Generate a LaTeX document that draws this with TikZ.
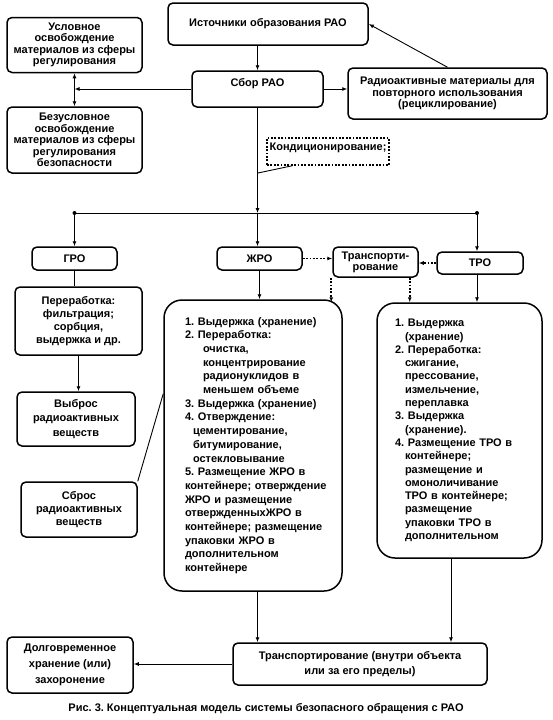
\documentclass[tikz,border=0pt]{standalone}
\usepackage{fontspec}
\setmainfont{Liberation Sans}
\usetikzlibrary{arrows.meta}

\tikzset{
	box/.style={draw, line width=1.5pt, rounded corners=5pt, align=center, inner sep=0pt,
		font=\bfseries\fontsize{11}{#1}\selectfont},
	box/.default=11.5,
	listbox/.style={draw, line width=1.5pt, rounded corners=18pt, align=left, inner ysep=0pt,
		font=\bfseries\fontsize{11}{#1}\selectfont},
	link/.style={line width=0.9pt, -{Latex[length=5pt,width=4pt]}},
	dlink/.style={line width=0.9pt, {Latex[length=5pt,width=4pt]}-{Latex[length=5pt,width=4pt]}},
	dotlink/.style={line width=1.6pt, dash pattern=on 1.8pt off 1.6pt, -{Latex[length=5pt,width=4pt]}},
	plain/.style={line width=0.9pt}
}

\begin{document}
\frenchspacing
\begin{tikzpicture}[x=1pt, y=-1pt]
	\useasboundingbox (0,0) rectangle (553,720);
	% top row
	\node[box, minimum width=200, minimum height=42] (n_src) at (268,24) {Источники образования РАО};
	\node[box, minimum width=135, minimum height=55] (n_cond) at (74.5,45)
		{Условное\\освобождение\\материалов из сферы\\регулирования};
	\node[box, minimum width=135, minimum height=66] (n_uncond) at (74.5,140)
		{Безусловное\\освобождение\\материалов из сферы\\регулирования\\безопасности};
	\node[box, minimum width=131, minimum height=36, text height=8pt, text depth=14pt] (n_collect) at (257.5,89) {Сбор РАО};
	\node[box, minimum width=199, minimum height=51] (n_recyc) at (447.5,93.5)
		{Радиоактивные материалы для\\повторного использования\\(рециклирование)};
	% callout
	\node[box, rounded corners=0pt, dash pattern=on 1.8pt off 1.6pt, minimum width=122, minimum height=27,
		text height=8pt, text depth=11pt] (n_condit) at (328,151.5) {Кондиционирование;};
	\coordinate (c_tip) at (258,173);
	% split line
	\coordinate (c_split) at (257.5,213);
	\coordinate (c_left) at (74.5,213);
	\coordinate (c_right) at (477,213);
	% waste kinds
	\node[box, minimum width=85, minimum height=23] (n_gro) at (74.5,258.5) {ГРО};
	\node[box, minimum width=85, minimum height=23] (n_zhro) at (259.5,258.5) {ЖРО};
	\node[box=11, minimum width=85, minimum height=30] (n_trans) at (375.5,262) {Транспорти-\\рование};
	\node[box, minimum width=86, minimum height=22] (n_tro) at (480,263) {ТРО};
	% gaseous branch
	\node[box=13, minimum width=127, minimum height=68] (n_gproc) at (78.5,321)
		{Переработка:\\фильтрация;\\сорбция,\\выдержка и др.};
	\node[box=14.5, minimum width=118, minimum height=54] (n_emis) at (76,419)
		{Выброс\\радиоактивных\\веществ};
	\node[box=13, minimum width=116, minimum height=55] (n_disch) at (79,509.5)
		{Сброс\\радиоактивных\\веществ};
	% liquid list
	\node[listbox=13.7, text width=136, inner xsep=21, minimum height=291] (n_zlist) at (253,445.5)
		{\mbox{1. Выдержка (хранение)}\\
		2. Переработка:\\
		\hspace*{18pt}очистка,\\
		\hspace*{18pt}концентрирование\\
		\hspace*{18pt}\mbox{радионуклидов в}\\
		\hspace*{18pt}\mbox{меньшем объеме}\\
		\mbox{3. Выдержка (хранение)}\\
		4. Отверждение:\\
		\hspace*{8pt}цементирование,\\
		\hspace*{8pt}битумирование,\\
		\hspace*{8pt}остекловывание\\
		\mbox{5. Размещение ЖРО в}\\
		\mbox{контейнере; отверждение}\\
		\mbox{ЖРО и размещение}\\
		\mbox{отвержденныхЖРО в}\\
		\mbox{контейнере; размещение}\\
		\mbox{упаковки ЖРО в}\\
		дополнительном\\
		контейнере};
	% solid list
	\node[listbox=13.3, text width=129, inner xsep=18, minimum height=255] (n_tlist) at (459.5,430.5)
		{1. Выдержка\\
		\hspace*{10pt}(хранение)\\
		2. Переработка:\\
		\hspace*{10pt}сжигание,\\
		\hspace*{10pt}прессование,\\
		\hspace*{10pt}измельчение,\\
		\hspace*{10pt}переплавка\\
		3. Выдержка\\
		\hspace*{10pt}(хранение).\\
		\mbox{4. Размещение ТРО в}\\
		\hspace*{10pt}контейнере;\\
		\hspace*{10pt}\mbox{размещение и}\\
		\hspace*{10pt}омоноличивание\\
		\hspace*{10pt}\mbox{ТРО в контейнере;}\\
		\hspace*{10pt}размещение\\
		\hspace*{10pt}\mbox{упаковки ТРО в}\\
		\hspace*{10pt}дополнительном};
	% bottom row
	\node[box=15, minimum width=254, minimum height=42] (n_transp) at (360,664)
		{Транспортирование (внутри объекта\\или за его пределы)};
	\node[box=16, minimum width=126, minimum height=56] (n_store) at (70,665)
		{Долговременное\\хранение (или)\\захоронение};
	\node[font=\bfseries\fontsize{11}{13}\selectfont] (n_caption) at (266,709)
		{Рис. 3. Концептуальная модель системы безопасного обращения с РАО};
	% edges
	\draw[link] (n_src.south -| n_collect.north) -- (n_collect.north);
	\draw[link] (n_recyc.north) -- (n_src.east);
	\draw[link] (n_collect.east) -- (n_collect.east -| n_recyc.west);
	\draw[link] (n_collect.west) -- (n_collect.west -| n_cond.south);
	\draw[dlink] (n_cond.south) -- (n_uncond.north);
	\draw[plain] ([xshift=26pt]n_condit.south west) -- (c_tip);
	\draw[link] (n_collect.south) -- (c_split);
	\draw[plain] (c_left) -- (c_right);
	\foreach \c in {c_left, c_right}
		\fill (\c) circle (2pt);
	\draw[link] (c_left) -- (n_gro.north);
	\draw[link] (c_split) -- (c_split |- n_zhro.north);
	\draw[link] (c_right) -- (c_right |- n_tro.north);
	\draw[plain] (n_gro.south) -- (n_gro.south |- n_gproc.north);
	\draw[link] (n_gproc.south) -- (n_gproc.south |- n_emis.north);
	\draw[plain] (n_disch.north east) -- (n_zlist.150);
	\draw[link] (n_zhro.south) -- (n_zhro.south |- n_zlist.north);
	\draw[dotlink] (n_zhro.east) -- (n_zhro.east -| n_trans.west);
	\draw[dotlink] (n_tro.west) -- (n_tro.west -| n_trans.east);
	\coordinate (c_tz) at ([xshift=-1pt]n_trans.south west);
	\coordinate (c_tt) at ([xshift=-9pt]n_trans.south east);
	\draw[dotlink] (c_tz) -- ([yshift=-3pt]c_tz |- n_zlist.north);
	\draw[dotlink] (c_tt) -- (c_tt |- n_tlist.north);
	\draw[link] (n_tro.south -| c_right) -- (c_right |- n_tlist.north);
	\coordinate (c_tb) at ([xshift=-8.5pt]n_tlist.south);
	\draw[link] (n_zlist.south -| c_split) -- (c_split |- n_transp.north);
	\draw[link] (c_tb) -- (c_tb |- n_transp.north);
	\draw[link] (n_transp.west) -- (n_transp.west -| n_store.east);
\end{tikzpicture}
\end{document}
